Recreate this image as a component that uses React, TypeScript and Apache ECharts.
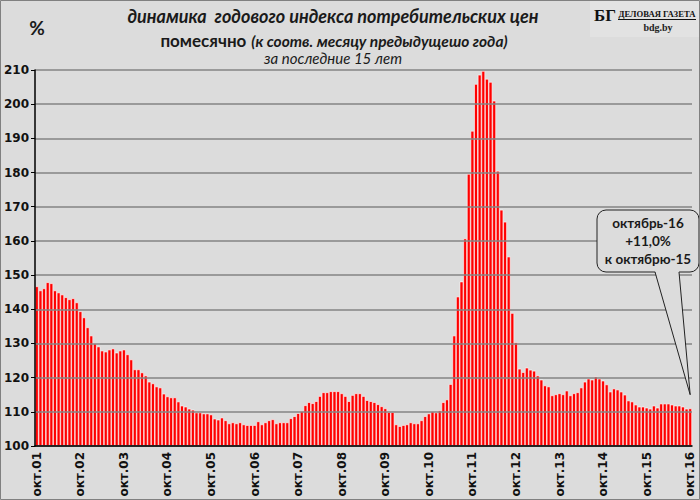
import React, { useEffect, useRef } from "react";
import * as echarts from "echarts";

// Month abbreviations (starting from October) and years covered
const MONTHS = ["окт", "ноя", "дек", "янв", "фев", "мар", "апр", "май", "июн", "июл", "авг", "сен"];
const START_YEAR = 2001;
const LABEL_INTERVAL = 11;

// Year-over-year CPI, %, by 12-month periods (Oct..Sep)
const p01 = [146.7, 145.5, 146.1, 147.9, 147.6, 145.5, 144.9, 144.3, 143.5, 142.9, 143.2, 142.0];
const p02 = [139.4, 137.6, 134.7, 132.3, 130.0, 129.1, 127.9, 127.6, 128.2, 128.5, 127.3, 127.9];
const p03 = [128.2, 126.8, 125.3, 122.4, 122.4, 121.5, 120.6, 118.8, 118.3, 117.4, 117.1, 115.3];
const p04 = [114.5, 114.2, 114.2, 113.0, 111.8, 111.5, 110.9, 110.6, 109.8, 109.8, 109.5, 109.5];
const p05 = [109.2, 108.0, 107.7, 108.3, 107.5, 106.6, 106.9, 106.6, 106.9, 106.3, 106.1, 106.1];
const p06 = [106.1, 107.2, 106.3, 106.9, 107.5, 107.8, 106.6, 106.9, 106.9, 106.9, 108.1, 108.7];
const p07 = [109.6, 110.2, 111.9, 112.8, 112.5, 113.1, 114.6, 115.7, 115.7, 116.0, 116.0, 116.0];
const p08 = [115.4, 114.6, 113.1, 114.9, 115.4, 115.4, 114.6, 113.4, 113.1, 112.8, 112.2, 111.6];
const p09 = [111.0, 109.9, 109.9, 106.3, 105.8, 106.1, 106.3, 106.9, 106.6, 106.6, 107.5, 108.7];
const p10 = [109.5, 110.1, 109.8, 110.4, 112.8, 113.6, 118.1, 132.3, 143.7, 148.1, 160.7, 179.6];
const p11 = [192.2, 205.9, 208.6, 209.7, 207.4, 206.5, 201.0, 180.5, 169.1, 165.6, 155.4, 138.9];
const p12 = [130.3, 122.6, 121.6, 122.9, 122.3, 122.0, 120.6, 119.4, 117.7, 117.4, 114.8, 115.1];
const p13 = [115.4, 115.1, 116.2, 114.8, 115.4, 115.7, 117.1, 118.8, 119.7, 119.4, 120.3, 119.7];
const p14 = [119.1, 118.0, 115.9, 116.8, 116.5, 115.9, 115.0, 113.3, 113.0, 112.1, 111.5, 111.5];
const p15 = [111.2, 110.9, 111.8, 111.2, 112.4, 112.4, 112.4, 112.1, 111.8, 111.8, 111.5, 110.9];
const p16 = [111.0];

const VALUES = [...p01, ...p02, ...p03, ...p04, ...p05, ...p06, ...p07, ...p08, ...p09, ...p10, ...p11, ...p12, ...p13, ...p14, ...p15, ...p16];

const CATEGORIES = VALUES.map((_, i) => {
  const yr = START_YEAR + Math.floor((i + 9) / 12);
  return `${MONTHS[i % 12]}.${String(yr % 100).padStart(2, "0")}`;
});

const Y_MIN = 100;
const Y_MAX = 210;
const Y_STEP = 10;

const TITLE1 = "динамика  годового индекса потребительских цен";
const TITLE2A = "помесячно";
const TITLE2B = "(к соотв. месяцу предыдущешо года)";
const TITLE3 = "за последние 15 лет";
const UNIT = "%";
const CALLOUT = ["октябрь-16", "+11,0%", "к октябрю-15"];
const CALLOUT_TIP_VALUE = 115;
const LOGO_MARK = "БГ";
const LOGO_NAME = "ДЕЛОВАЯ ГАЗЕТА";
const LOGO_SITE = "bdg.by";

const BG = "#dcdcdc";
const TXT = "#1a1a1a";

function measure(text: string, font: string): number {
  const ctx = document.createElement("canvas").getContext("2d");
  if (!ctx) return text.length * 7.5;
  ctx.font = font;
  return ctx.measureText(text).width;
}

export default function App() {
  const ref = useRef<HTMLDivElement>(null);

  useEffect(() => {
    if (!ref.current) return;
    const chart = echarts.init(ref.current, undefined, { renderer: "svg" });
    chart.setOption({
      animation: false,
      backgroundColor: BG,
      grid: { left: 35, right: 8, top: 70, bottom: 54, containLabel: false },
      xAxis: {
        type: "category",
        data: CATEGORIES,
        z: 5,
        axisLine: { show: true, lineStyle: { color: "#000", width: 1.5 } },
        axisTick: { show: false },
        axisLabel: {
          interval: LABEL_INTERVAL,
          rotate: 90,
          margin: 6,
          fontFamily: "DejaVu Sans",
          fontSize: 12,
          fontWeight: "bold",
          color: "#111",
        },
      },
      yAxis: {
        type: "value",
        min: Y_MIN,
        max: Y_MAX,
        interval: Y_STEP,
        z: 5,
        axisLine: { show: true, lineStyle: { color: "#000", width: 1.5 } },
        axisTick: { show: true, length: 4, lineStyle: { color: "#000" } },
        axisLabel: { margin: 6, fontFamily: "DejaVu Sans", fontSize: 12, fontWeight: "bold", color: "#111" },
        splitLine: { show: true, lineStyle: { color: "#858585", width: 1.5 } },
      },
      series: [
        {
          type: "bar",
          data: VALUES,
          barCategoryGap: "0%",
          itemStyle: { color: "#ff0000", borderColor: "#ffffff", borderWidth: 0.6 },
        },
      ],
    });

    // Second title line: two plain texts placed side by side
    const wA = measure(TITLE2A, "bold 17px Lato");
    const wB = measure(TITLE2B, "italic bold 15.5px Lato");
    const gap = 5;
    const line2Left = 334 - (wA + gap + wB) / 2;

    // Logo texts sized to fit their boxes
    const markSize = Math.min(24, (22 * 24) / measure(LOGO_MARK, "bold 24px 'Liberation Serif'"));
    const nameSize = (12 * 77) / measure(LOGO_NAME, "bold 12px 'Liberation Serif'");

    const tip = chart.convertToPixel({ seriesIndex: 0 }, [VALUES.length - 1, CALLOUT_TIP_VALUE]) as number[];
    const boxL = 597, boxT = 210, boxW = 102, boxH = 62;
    const baseA = 655, baseB = 679;
    const boxB = boxT + boxH;

    chart.setOption({
      graphic: [
        {
          type: "text", x: 37, y: 27, z: 10,
          style: { text: UNIT, fontFamily: "Lato", fontSize: 19, fontWeight: "bold", fill: TXT, align: "center", verticalAlign: "middle" },
        },
        {
          type: "text", x: 333, y: 16, z: 10,
          style: { text: TITLE1, fontFamily: "Lato", fontSize: 18, fontWeight: "bold", fontStyle: "italic", fill: TXT, align: "center", verticalAlign: "middle" },
        },
        {
          type: "text", x: line2Left, y: 40, z: 10,
          style: { text: TITLE2A, fontFamily: "Lato", fontSize: 17, fontWeight: "bold", fill: TXT, align: "left", verticalAlign: "middle" },
        },
        {
          type: "text", x: line2Left + wA + gap, y: 41, z: 10,
          style: { text: TITLE2B, fontFamily: "Lato", fontSize: 15.5, fontWeight: "bold", fontStyle: "italic", fill: TXT, align: "left", verticalAlign: "middle" },
        },
        {
          type: "text", x: 333, y: 58, z: 10,
          style: { text: TITLE3, fontFamily: "Lato", fontSize: 15, fontStyle: "italic", fill: TXT, align: "center", verticalAlign: "middle" },
        },
        // Logo
        { type: "rect", z: 10, shape: { x: 590, y: 0, width: 110, height: 37 }, style: { fill: "#e2e2e2" } },
        {
          type: "text", x: 605, y: 15, z: 11,
          style: { text: LOGO_MARK, fontFamily: "Liberation Serif", fontSize: markSize, fontWeight: "bold", fill: "#111", align: "center", verticalAlign: "middle" },
        },
        {
          type: "text", x: 657, y: 14, z: 11,
          style: { text: LOGO_NAME, fontFamily: "Liberation Serif", fontSize: nameSize, fontWeight: "bold", fill: "#111", align: "center", verticalAlign: "middle" },
        },
        { type: "line", z: 11, shape: { x1: 618, y1: 19.5, x2: 696, y2: 19.5 }, style: { stroke: "#111", lineWidth: 1 } },
        {
          type: "text", x: 658, y: 27, z: 11,
          style: { text: LOGO_SITE, fontFamily: "Liberation Serif", fontSize: 10, fontWeight: "bold", fill: "#222", align: "center", verticalAlign: "middle" },
        },
        // Callout
        {
          type: "rect", z: 20,
          shape: { x: boxL, y: boxT, width: boxW, height: boxH, r: 9 },
          style: { fill: BG, stroke: "#222", lineWidth: 1 },
        },
        {
          type: "polygon", z: 21,
          shape: { points: [[baseA, boxB - 1], [tip[0], tip[1]], [baseB, boxB - 1]] },
          style: { fill: BG },
        },
        {
          type: "polyline", z: 22,
          shape: { points: [[baseA, boxB], [tip[0], tip[1]], [baseB, boxB]] },
          style: { fill: "none", stroke: "#222", lineWidth: 1 },
        },
        ...CALLOUT.map((t, i) => ({
          type: "text", x: boxL + boxW / 2, y: boxT + 13 + i * 18, z: 23,
          style: { text: t, fontFamily: "Lato", fontSize: 13.5, fontWeight: "bold", fill: TXT, align: "center", verticalAlign: "middle" },
        })),
        // Outer border
        {
          type: "rect", z: 30,
          shape: { x: 0.5, y: 0.5, width: 699, height: 499 },
          style: { fill: "none", stroke: "#808080", lineWidth: 1 },
        },
      ],
    });

    return () => chart.dispose();
  }, []);

  return <div ref={ref} style={{ position: "absolute", left: 0, top: 0, width: 700, height: 500 }} />;
}
